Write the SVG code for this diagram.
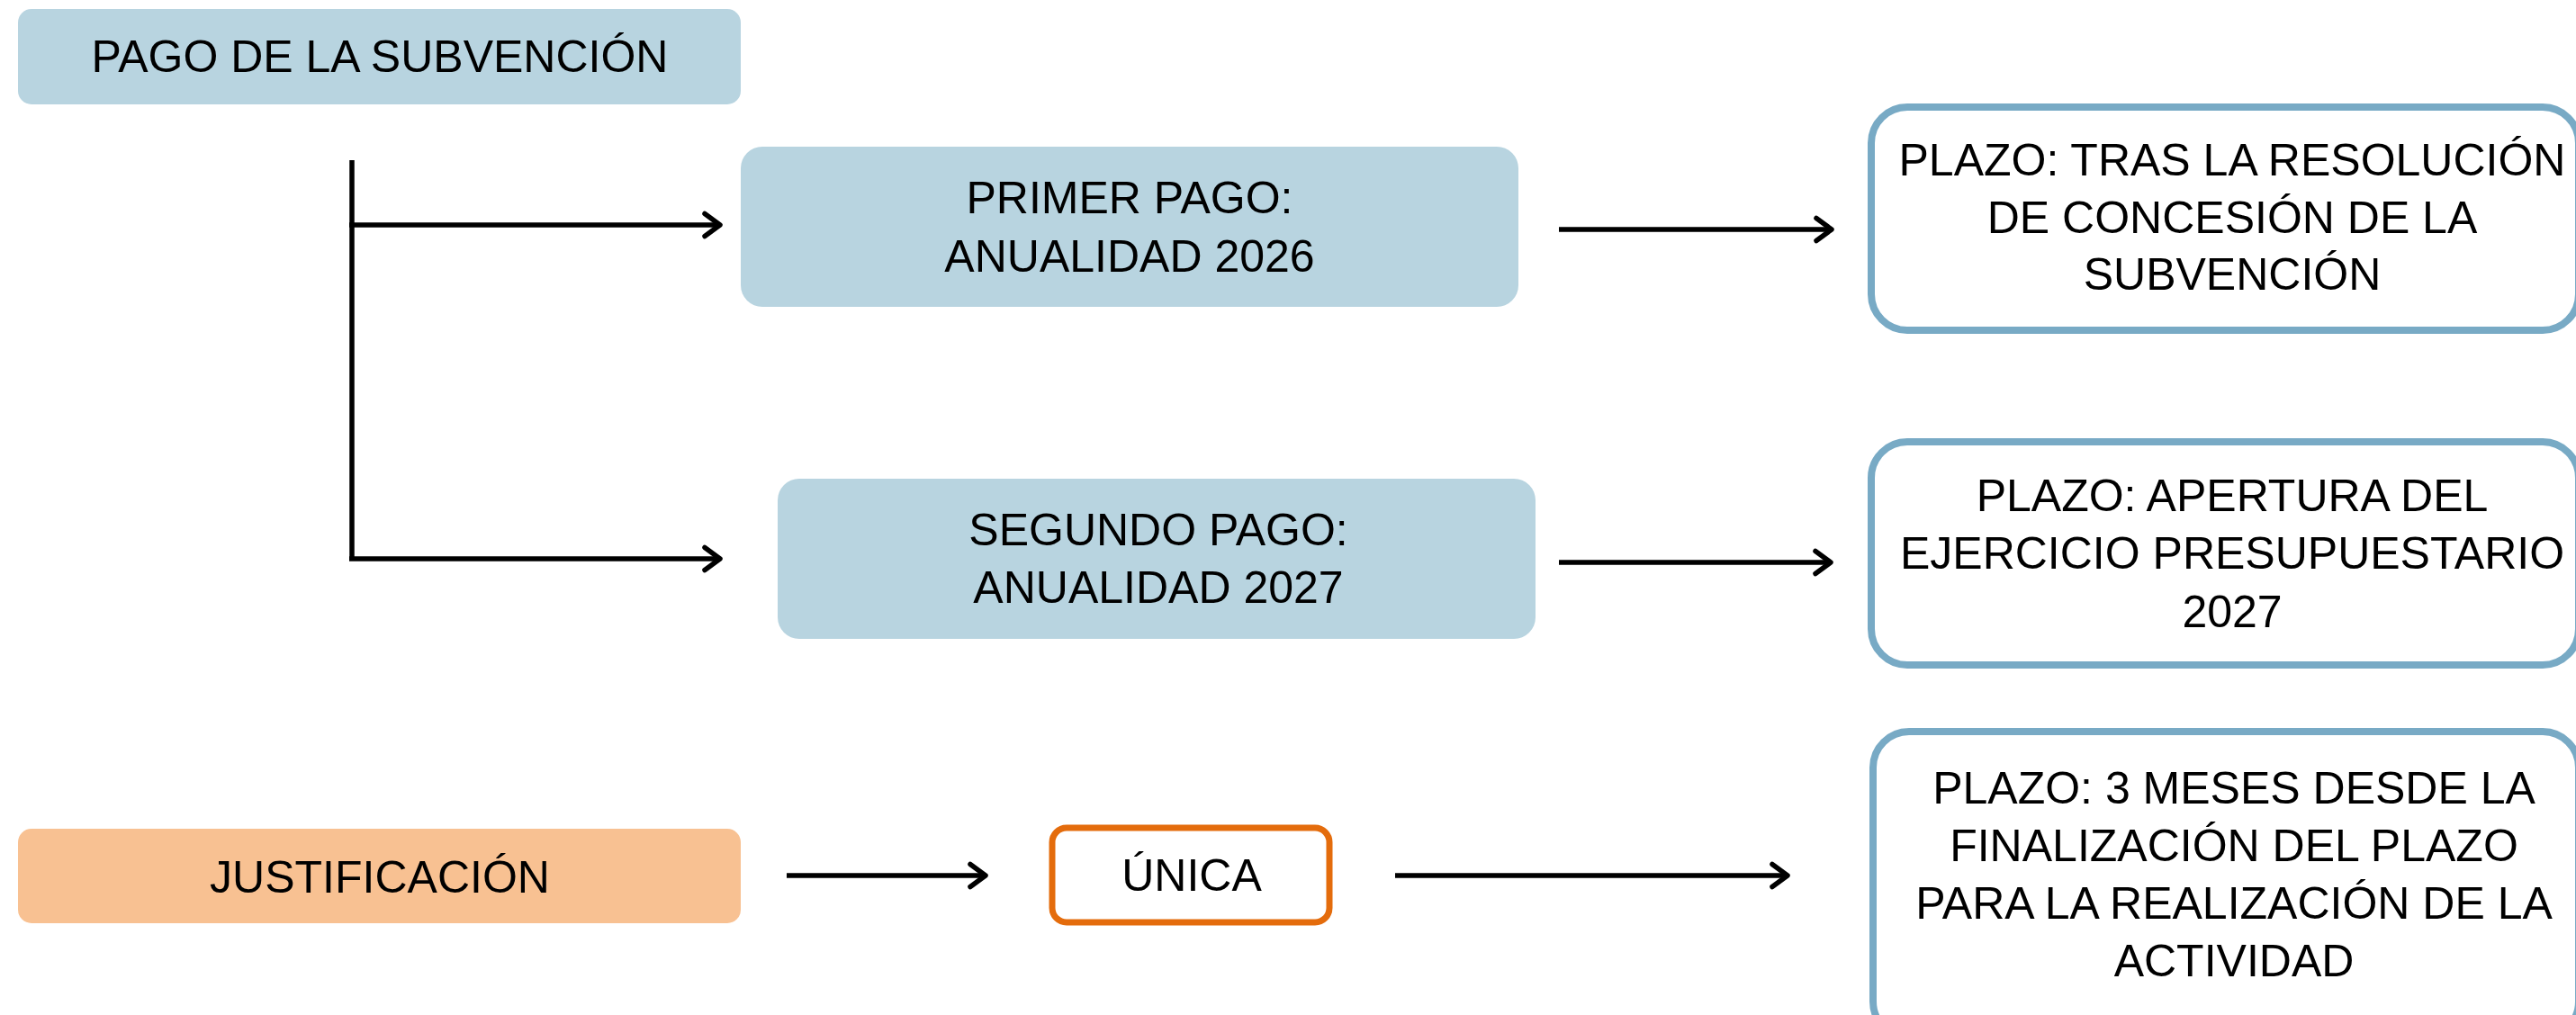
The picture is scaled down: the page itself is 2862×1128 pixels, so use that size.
<svg xmlns="http://www.w3.org/2000/svg" width="2862" height="1128" viewBox="0 0 2862 1128">
<style>
  .t { font-family: "Liberation Sans", Arial, sans-serif; font-size: 50px; fill: #000; text-anchor: middle; }
  .blue { fill: #B8D4E0; }
  .orange { fill: #F8C192; }
  .plazo { fill: #FFFFFF; stroke: #78AAC5; stroke-width: 8; }
  .unica { fill: #FFFFFF; stroke: #E46C0C; stroke-width: 7; }
  .conn { fill: none; stroke: #000; stroke-width: 5.5; }
</style>
<defs>
  <marker id="arrow" markerUnits="userSpaceOnUse" markerWidth="40" markerHeight="40" viewBox="-20 -20 40 40" refX="0" refY="0" orient="auto" overflow="visible">
    <path d="M-17,-12.5 L0,0 L-17,12.5" fill="none" stroke="#000" stroke-width="5.5" stroke-linecap="round" stroke-linejoin="round"/>
  </marker>
</defs>
<rect width="2862" height="1128" fill="#FFFFFF"/>

<g id="pago">
  <rect class="blue" x="20" y="10" width="803" height="106" rx="15"/>
  <text class="t" x="422" y="80">PAGO DE LA SUBVENCIÓN</text>
</g>
<g id="primer-pago">
  <rect class="blue" x="823" y="163" width="864" height="178" rx="24"/>
  <text class="t" x="1255" y="237">PRIMER PAGO:</text>
  <text class="t" x="1255" y="302">ANUALIDAD 2026</text>
</g>
<g id="segundo-pago">
  <rect class="blue" x="864" y="532" width="842" height="178" rx="24"/>
  <text class="t" x="1287" y="606">SEGUNDO PAGO:</text>
  <text class="t" x="1287" y="670">ANUALIDAD 2027</text>
</g>
<g id="plazo-1">
  <rect class="plazo" x="2079" y="119" width="786" height="248" rx="40"/>
  <text class="t" x="2480" y="195">PLAZO: TRAS LA RESOLUCIÓN</text>
  <text class="t" x="2480" y="259">DE CONCESIÓN DE LA</text>
  <text class="t" x="2480" y="322">SUBVENCIÓN</text>
</g>
<g id="plazo-2">
  <rect class="plazo" x="2079" y="491" width="786" height="248" rx="40"/>
  <text class="t" x="2480" y="568">PLAZO: APERTURA DEL</text>
  <text class="t" x="2480" y="632">EJERCICIO PRESUPUESTARIO</text>
  <text class="t" x="2480" y="697">2027</text>
</g>
<g id="plazo-3">
  <rect class="plazo" x="2081" y="813" width="784" height="340" rx="40"/>
  <text class="t" x="2482" y="893">PLAZO: 3 MESES DESDE LA</text>
  <text class="t" x="2482" y="957">FINALIZACIÓN DEL PLAZO</text>
  <text class="t" x="2482" y="1021">PARA LA REALIZACIÓN DE LA</text>
  <text class="t" x="2482" y="1085">ACTIVIDAD</text>
</g>
<g id="justificacion">
  <rect class="orange" x="20" y="921" width="803" height="105" rx="15"/>
  <text class="t" x="422" y="992">JUSTIFICACIÓN</text>
</g>
<g id="unica">
  <rect class="unica" x="1169" y="920" width="308" height="105" rx="16"/>
  <text class="t" x="1324" y="990">ÚNICA</text>
</g>

<g id="connectors">
  <path class="conn" d="M391,178 V623"/>
  <path class="conn" d="M388,250 H800" marker-end="url(#arrow)"/>
  <path class="conn" d="M388,621 H800" marker-end="url(#arrow)"/>
  <path class="conn" d="M1732,255 H2035" marker-end="url(#arrow)"/>
  <path class="conn" d="M1732,625 H2034" marker-end="url(#arrow)"/>
  <path class="conn" d="M874,973 H1095" marker-end="url(#arrow)"/>
  <path class="conn" d="M1550,973 H1986" marker-end="url(#arrow)"/>
</g>
</svg>
